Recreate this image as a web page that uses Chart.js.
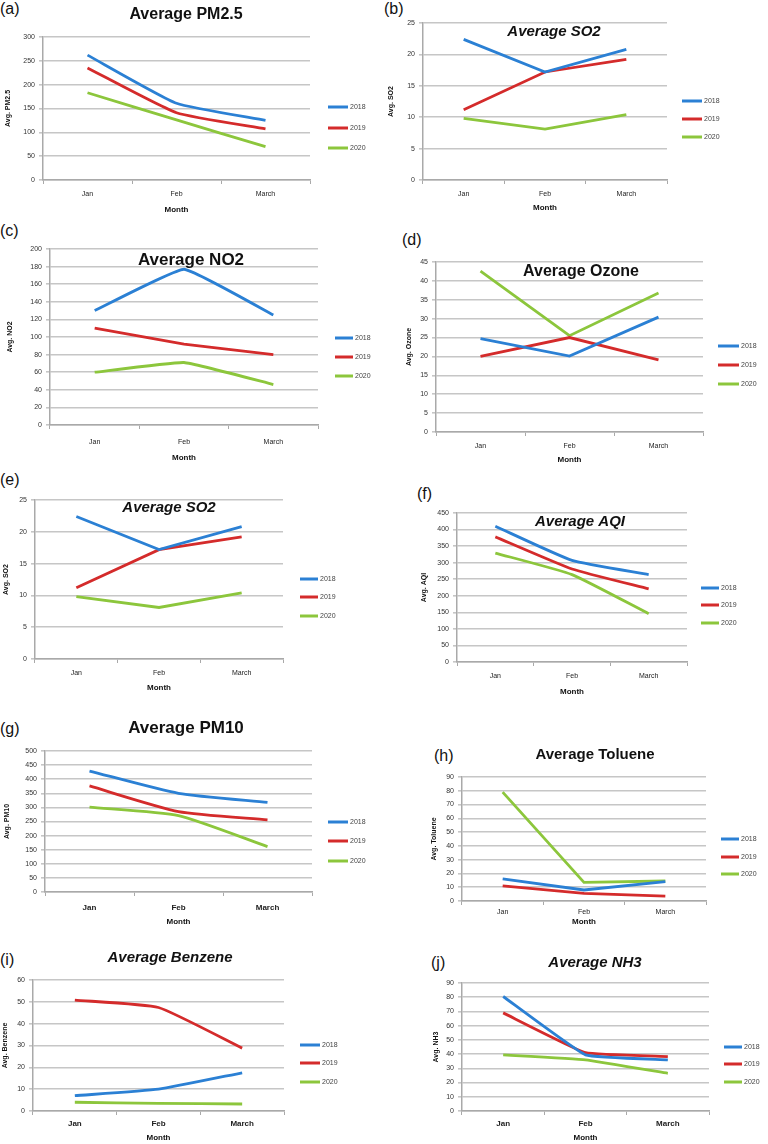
<!DOCTYPE html>
<html>
<head>
<meta charset="utf-8">
<title>Average pollutant levels, Jan-March 2018-2020</title>
<script src="https://cdn.jsdelivr.net/npm/chart.js@4.4.0/dist/chart.umd.min.js"></script>
<style>
    html, body { margin: 0; padding: 0; background: #ffffff; }
    #figure { position: relative; width: 768px; height: 1144px; overflow: hidden; }
    #figure canvas { position: absolute; }
    .tag { position: absolute; font: 16px 'Liberation Sans', Arial, sans-serif; color: #111; line-height: 16px; }
</style>
</head>
<body>
<div id="figure"></div>
<script>
// data
const months = ['Jan', 'Feb', 'March'];
const years = ['2018', '2019', '2020'];

const pm25_2018 = [262, 161, 125];
const pm25_2019 = [235, 141, 107];
const pm25_2020 = [183, 126, 70];

const so2_2018 = [22.4, 17.2, 20.8];
const so2_2019 = [11.2, 17.2, 19.2];
const so2_2020 = [9.8, 8.1, 10.4];

const no2_2018 = [130, 177, 125];
const no2_2019 = [110, 92, 80];
const no2_2020 = [60, 71, 46];

const ozone_2018 = [24.7, 20.1, 30.4];
const ozone_2019 = [20, 25, 19.1];
const ozone_2020 = [42.6, 25.5, 36.8];

const aqi_2018 = [410, 307, 264];
const aqi_2019 = [378, 281, 221];
const aqi_2020 = [329, 264, 146];

const pm10_2018 = [429, 350, 318];
const pm10_2019 = [376, 285, 256];
const pm10_2020 = [301, 271, 161];

const toluene_2018 = [16, 8, 14];
const toluene_2019 = [11, 5.6, 3.5];
const toluene_2020 = [79, 13.5, 14.5];

const benzene_2018 = [7, 10, 17.5];
const benzene_2019 = [50.8, 47.4, 28.8];
const benzene_2020 = [4, 3.5, 3.2];

const nh3_2018 = [80.5, 39.5, 36];
const nh3_2019 = [69, 41, 38.3];
const nh3_2020 = [39.5, 36, 26.5];

const panelTags = ['(a)', '(b)', '(c)', '(d)', '(e)', '(f)', '(g)', '(h)', '(i)', '(j)'];
const panelTitles = ['Average PM2.5', 'Average SO2', 'Average NO2', 'Average Ozone', 'Average SO2',
    'Average AQI', 'Average PM10', 'Average Toluene', 'Average Benzene', 'Average NH3'];
const axisTitles = ['Avg. PM2.5', 'Avg. SO2', 'Avg. NO2', 'Avg. Ozone', 'Avg. SO2',
    'Avg. AQI', 'Avg. PM10', 'Avg. Toluene', 'Avg. Benzene', 'Avg. NH3'];
const axisMax = [300, 25, 200, 45, 25, 450, 500, 90, 60, 90];
const axisStep = [50, 5, 20, 5, 5, 50, 50, 10, 10, 10];
const panelSeries = [
    [pm25_2018, pm25_2019, pm25_2020],
    [so2_2018, so2_2019, so2_2020],
    [no2_2018, no2_2019, no2_2020],
    [ozone_2018, ozone_2019, ozone_2020],
    [so2_2018, so2_2019, so2_2020],
    [aqi_2018, aqi_2019, aqi_2020],
    [pm10_2018, pm10_2019, pm10_2020],
    [toluene_2018, toluene_2019, toluene_2020],
    [benzene_2018, benzene_2019, benzene_2020],
    [nh3_2018, nh3_2019, nh3_2020],
];

// page positions of each panel (px)
const panelLayout = [
    { box: [0, 0, 384, 220], plot: [43, 310, 37, 180], tag: [0, 1], title: [186, 15, 16, false], yTitleX: 8, xLabelY: 193, monthY: 210, legend: [328, 20, 107, 128, 148], tension: 0.15, boldX: false },
    { box: [384, 0, 384, 225], plot: [423, 667, 23, 180], tag: [384, 1], title: [554, 32, 15, true], yTitleX: 391, xLabelY: 193, monthY: 208, legend: [682, 20, 101, 119, 137], tension: 0, boldX: false },
    { box: [0, 220, 384, 248], plot: [50, 318, 249, 425], tag: [0, 223], title: [191, 260, 17, false], yTitleX: 10, xLabelY: 441, monthY: 458, legend: [335, 18, 338, 357, 376], tension: 0.1, boldX: false },
    { box: [384, 225, 384, 245], plot: [436, 703, 262, 432], tag: [402, 232], title: [581, 272, 16, false], yTitleX: 409, xLabelY: 445, monthY: 460, legend: [718, 21, 346, 365, 384], tension: 0, boldX: false },
    { box: [0, 468, 384, 232], plot: [35, 283, 500, 659], tag: [0, 472], title: [169, 508, 15, true], yTitleX: 6, xLabelY: 672, monthY: 688, legend: [300, 18, 579, 597, 616], tension: 0, boldX: false },
    { box: [384, 470, 384, 232], plot: [457, 687, 513, 662], tag: [417, 486], title: [580, 522, 15, true], yTitleX: 424, xLabelY: 675, monthY: 692, legend: [701, 18, 588, 605, 623], tension: 0.15, boldX: false },
    { box: [0, 700, 384, 232], plot: [45, 312, 751, 892], tag: [0, 721], title: [186, 728, 17, false], yTitleX: 7, xLabelY: 907, monthY: 922, legend: [328, 20, 822, 841, 861], tension: 0.2, boldX: true },
    { box: [384, 702, 384, 230], plot: [462, 706, 777, 901], tag: [434, 748], title: [595, 755, 15, false], yTitleX: 434, xLabelY: 911, monthY: 922, legend: [721, 18, 839, 857, 874], tension: 0, boldX: false },
    { box: [0, 932, 384, 212], plot: [33, 284, 980, 1111], tag: [0, 952], title: [170, 958, 15, true], yTitleX: 5, xLabelY: 1123, monthY: 1138, legend: [300, 20, 1045, 1063, 1082], tension: 0.15, boldX: true },
    { box: [384, 932, 384, 212], plot: [462, 709, 983, 1111], tag: [431, 955], title: [595, 963, 15, true], yTitleX: 436, xLabelY: 1123, monthY: 1138, legend: [724, 18, 1047, 1064, 1082], tension: 0.1, boldX: true },
];

const lineColors = ['#2b80d4', '#d42b2b', '#8cc63c'];
const fontFamily = "'Liberation Sans', Arial, sans-serif";
const gridColor = '#c6c6c6';
const axisColor = '#a9a9a9';
const tickLen = 4;

// title and legend are placed by hand, like in the original figure
const panelDecor = {
    id: 'panelDecor',
    afterDraw(chart, args, opts) {
        const { ctx } = chart;
        const [bx, by] = opts.box;
        const [tx, ty, size, italic] = opts.title;
        const [lx, len, ...rows] = opts.legend;

        ctx.save();
        ctx.fillStyle = '#111';
        ctx.textAlign = 'center';
        ctx.textBaseline = 'middle';
        ctx.font = `${italic ? 'italic ' : ''}bold ${size}px ${fontFamily}`;
        ctx.fillText(opts.text, tx - bx, ty - by);

        chart.data.datasets.forEach((ds, k) => {
            const y = rows[k] - by;
            const x = lx - bx;
            ctx.strokeStyle = ds.borderColor;
            ctx.lineWidth = 3;
            ctx.beginPath();
            ctx.moveTo(x, y);
            ctx.lineTo(x + len, y);
            ctx.stroke();
            ctx.fillStyle = '#444';
            ctx.font = `7px ${fontFamily}`;
            ctx.textAlign = 'left';
            ctx.fillText(ds.label, x + len + 2, y);
        });
        ctx.restore();
    },
};

function buildPanel(i) {
    const L = panelLayout[i];
    const [bx, by, bw, bh] = L.box;
    const [pl, pr, pt, pb] = L.plot;
    const figure = document.getElementById('figure');

    const tag = document.createElement('div');
    tag.className = 'tag';
    tag.style.left = L.tag[0] + 'px';
    tag.style.top = L.tag[1] + 'px';
    tag.textContent = panelTags[i];
    figure.appendChild(tag);

    const canvas = document.createElement('canvas');
    canvas.width = bw;
    canvas.height = bh;
    canvas.style.left = bx + 'px';
    canvas.style.top = by + 'px';
    canvas.style.width = bw + 'px';
    canvas.style.height = bh + 'px';
    figure.appendChild(canvas);

    const xFontSize = L.boldX ? 8 : 7;
    const titleLine = 8 * 1.2;

    new Chart(canvas, {
        type: 'line',
        data: {
            labels: months,
            datasets: panelSeries[i].map((values, k) => ({
                label: years[k],
                data: values,
                borderColor: lineColors[k],
                backgroundColor: lineColors[k],
                borderWidth: 2.8,
                pointRadius: 0,
                tension: L.tension,
                fill: false,
            })),
        },
        options: {
            responsive: false,
            animation: false,
            events: [],
            layout: {
                padding: { left: 0, top: pt - by, right: bx + bw - pr, bottom: 0 },
            },
            plugins: {
                legend: { display: false },
                title: { display: false },
                tooltip: { enabled: false },
                panelDecor: {
                    box: L.box,
                    title: L.title,
                    legend: L.legend,
                    text: panelTitles[i],
                },
            },
            scales: {
                x: {
                    offset: true,
                    grid: {
                        offset: true,
                        drawOnChartArea: false,
                        tickLength: tickLen,
                        color: axisColor,
                        lineWidth: 1,
                    },
                    border: { color: axisColor, width: 1.5 },
                    ticks: {
                        color: '#222',
                        padding: L.xLabelY - pb - tickLen - xFontSize / 2,
                        maxRotation: 0,
                        font: { family: fontFamily, size: xFontSize, weight: L.boldX ? 'bold' : 'normal' },
                    },
                    title: {
                        display: true,
                        text: 'Month',
                        color: '#111',
                        font: { family: fontFamily, size: 8, weight: 'bold' },
                        padding: { top: 0, bottom: by + bh - L.monthY - titleLine / 2 },
                    },
                    afterFit: (scale) => { scale.height = by + bh - pb; },
                },
                y: {
                    min: 0,
                    max: axisMax[i],
                    grid: {
                        color: gridColor,
                        lineWidth: 1.6,
                        tickLength: tickLen,
                    },
                    border: { color: axisColor, width: 1.5 },
                    ticks: {
                        stepSize: axisStep[i],
                        color: '#333',
                        padding: 4,
                        font: { family: fontFamily, size: 7 },
                    },
                    title: {
                        display: true,
                        text: axisTitles[i],
                        color: '#111',
                        font: { family: fontFamily, size: 7, weight: 'bold' },
                        padding: { top: Math.max(L.yTitleX - bx - 7 * 1.2 / 2, 0), bottom: 0 },
                    },
                    afterFit: (scale) => { scale.width = pl - bx; },
                },
            },
        },
        plugins: [panelDecor],
    });
}

panelLayout.forEach((_, i) => buildPanel(i));
</script>
</body>
</html>
